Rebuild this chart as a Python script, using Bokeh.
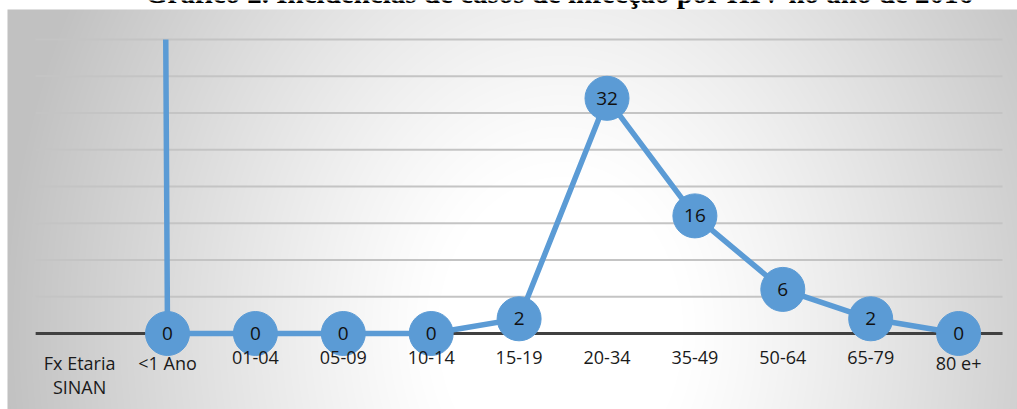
import numpy as np
from bokeh.plotting import figure
from bokeh.models import Range1d, ColumnDataSource
from bokeh.core.properties import value
from bokeh.embed import file_html
from bokeh.resources import INLINE

# ---- data -------------------------------------------------------------
title_text = "Gráfico 2. Incidências de casos de infecção por HIV no ano de 2016"
age_groups = ["Fx Etaria\nSINAN", "<1 Ano", "01-04", "05-09", "10-14", "15-19",
              "20-34", "35-49", "50-64", "65-79", "80 e+"]
cases = [2016, 0, 0, 0, 0, 2, 32, 16, 6, 2, 0]
grid_values = [5, 10, 15, 20, 25, 30, 35, 40]
y_axis_max = 40

# ---- canvas geometry (pixels) ----------------------------------------
W, H = 1017, 409
PX_PER_CAT = 87.9     # width of one category band
FIRST_CAT_PX = 79.1   # centre of the first category
PX_PER_UNIT = 7.35    # vertical pixels per case
ZERO_PX = 333         # baseline of the value axis (from top)

x_start = -FIRST_CAT_PX / PX_PER_CAT
x_end = x_start + W / PX_PER_CAT
y_end = ZERO_PX / PX_PER_UNIT
y_start = y_end - H / PX_PER_UNIT


def px_to_x(px):
    return (px - FIRST_CAT_PX) / PX_PER_CAT


def px_to_y(py):
    return (ZERO_PX - py) / PX_PER_UNIT


p = figure(width=W, height=H, output_backend="svg", toolbar_location=None,
           x_range=Range1d(x_start, x_end), y_range=Range1d(y_start, y_end),
           x_axis_location=None, y_axis_location=None, min_border=0,
           background_fill_color="white", border_fill_color="white",
           outline_line_color=None)
p.xgrid.visible = False
p.ygrid.visible = False

# ---- chart-area background: soft radial grey -> white ---------------
bg_left, bg_top = 7, 9
bw, bh = W - bg_left, H - bg_top
cols = np.arange(bw) + bg_left + 0.5
rows = H - (np.arange(bh) + 0.5)          # image rows run bottom -> top
gx, gy = np.meshgrid(cols, rows)
d = np.sqrt(((gx - 560) / 560.0) ** 2 + ((gy - 330) / 700.0) ** 2)
t = np.clip((d - 0.22) / 0.78, 0, 1) ** 1.15
shade = (255 - 62 * t).astype(np.uint8)
img = np.empty((bh, bw), dtype=np.uint32)
view = img.view(dtype=np.uint8).reshape((bh, bw, 4))
view[..., 0] = shade
view[..., 1] = shade
view[..., 2] = shade
view[..., 3] = 255
p.image_rgba(image=[img], x=px_to_x(bg_left), y=y_start,
             dw=bw / PX_PER_CAT, dh=bh / PX_PER_UNIT)

# ---- horizontal gridlines and category axis --------------------------
n = len(age_groups)
p.segment(x0=[-0.5] * len(grid_values), x1=[n - 0.5] * len(grid_values),
          y0=grid_values, y1=grid_values, line_color="#c4c4c4", line_width=1.8)
p.segment(x0=[-0.5], x1=[n - 0.5], y0=[0], y1=[0],
          line_color="#404040", line_width=3.2)

# ---- series line, clipped to the value axis maximum ------------------
xs, ys = [], []
idx = list(range(n))
for i in range(n - 1):
    xa, ya, xb, yb = idx[i], cases[i], idx[i + 1], cases[i + 1]
    if ya > y_axis_max and yb > y_axis_max:
        continue
    if ya > y_axis_max:
        xa = xa + (xb - xa) * (ya - y_axis_max) / (ya - yb)
        ya = y_axis_max
    if yb > y_axis_max:
        xb = xa + (xb - xa) * (y_axis_max - ya) / (yb - ya)
        yb = y_axis_max
    if not xs or (xs[-1], ys[-1]) != (xa, ya):
        xs.append(xa)
        ys.append(ya)
    xs.append(xb)
    ys.append(yb)
p.line(xs, ys, line_color="#5B9BD5", line_width=5.5, line_join="round")

shown = [(i, v) for i, v in zip(idx, cases) if v <= y_axis_max]
pts = ColumnDataSource(dict(x=[s[0] for s in shown], y=[s[1] for s in shown],
                            label=[str(s[1]) for s in shown]))
p.scatter("x", "y", source=pts, size=44, fill_color="#5B9BD5",
          line_color="#5B9BD5", line_width=1)
p.text("x", "y", text="label", source=pts, text_align="center",
       text_baseline="middle", text_font=value("Open Sans"),
       text_font_size="19px", text_color="#111111")

# ---- category labels -------------------------------------------------
cats = ColumnDataSource(dict(x=idx, y=[px_to_y(350)] * n, label=age_groups))
p.text("x", "y", text="label", source=cats, text_align="center",
       text_baseline="top", text_font=value("Open Sans"),
       text_font_size="18px", text_color="#1a1a1a", text_line_height=1.0)

# ---- title (partly above the visible page) ---------------------------
p.text(x=[px_to_x(559)], y=[px_to_y(-8)], text=[title_text],
       text_align="center", text_baseline="alphabetic",
       text_font=value("Liberation Serif"), text_font_style="bold",
       text_font_size="29px", text_color="black")

open("out.html", "w").write(file_html(p, INLINE))
